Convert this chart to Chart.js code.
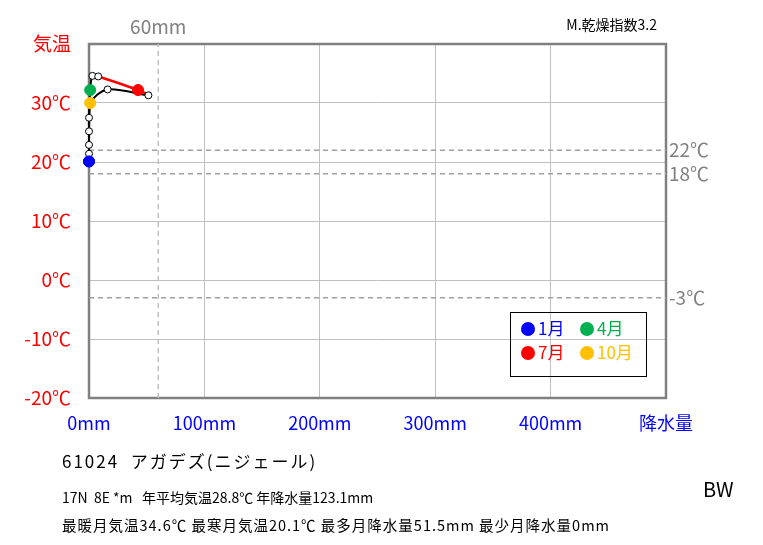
<!DOCTYPE html>
<html lang="ja">
<head>
<meta charset="UTF-8">
<title>雨温図 アガデズ</title>
<script src="https://cdn.jsdelivr.net/npm/chart.js"></script>
<style>
  body { margin: 0; background: #fff; }
  #wrap { width: 763px; height: 545px; }
</style>
</head>
<body>
<div id="wrap"><canvas id="graph" width="763" height="545"></canvas></div>
<script>
// monthly values, Jan..Dec
const months = ['1月','2月','3月','4月','5月','6月','7月','8月','9月','10月','11月','12月'];
const temps = [20.1, 22.9, 27.5, 32.2, 34.6, 34.5, 32.2, 31.3, 32.3, 30.0, 25.2, 21.4];
const precip = [0, 0, 0, 1, 3, 8, 42.5, 51.5, 16.1, 1, 0, 0];
const tempLines = [22, 18, -3];
const precipLine = 60;
const yTicks = [-20, -10, 0, 10, 20, 30, 40];
const xTicks = [0, 100, 200, 300, 400, 500];

const FONT = '"Noto Sans CJK JP", "Noto Sans", sans-serif';
const markColors = { 0: '#0000ff', 3: '#00b050', 6: '#ff0000', 9: '#ffc000' };

// points in month order, closing back on January
const pts = temps.map((t, i) => ({ x: precip[i], y: t }));
pts.push({ x: precip[0], y: temps[0] });
const fillCol = pts.map((p, i) => markColors[i % 12] || '#ffffff');
const edgeCol = pts.map((p, i) => markColors[i % 12] || '#000000');
const radius = pts.map((p, i) => markColors[i % 12] ? 5.5 : 3.5);

const dashed = tempLines.map(v => ({
  type: 'line', data: [{ x: 0, y: v }, { x: 500, y: v }],
  borderColor: '#a0a0a0', borderWidth: 1.5, borderDash: [5, 4],
  pointRadius: 0, order: 2
}));
dashed.push({
  type: 'line', data: [{ x: precipLine, y: -20 }, { x: precipLine, y: 40 }],
  borderColor: '#c0c0c0', borderWidth: 1.5, borderDash: [5, 4],
  pointRadius: 0, order: 2
});

const extras = {
  id: 'extras',
  beforeDatasetsDraw(chart) {
    const { ctx, chartArea: a } = chart;
    ctx.save();
    ctx.strokeStyle = '#808080';
    ctx.lineWidth = 2.5;
    ctx.strokeRect(a.left, a.top, a.right - a.left, a.bottom - a.top);
    ctx.restore();
  },
  afterDraw(chart) {
    const { ctx, scales: { x, y } } = chart;
    ctx.save();
    ctx.textBaseline = 'middle';
    // right side labels for dashed temperature lines
    ctx.fillStyle = '#808080';
    ctx.font = '19px ' + FONT;
    ctx.textAlign = 'left';
    tempLines.forEach(v => ctx.fillText(v + '℃', 669, y.getPixelForValue(v)));
    ctx.textAlign = 'center';
    ctx.fillText(precipLine + 'mm', x.getPixelForValue(precipLine), 27);

    ctx.fillStyle = '#000';
    ctx.font = '14px ' + FONT;
    ctx.textAlign = 'right';
    ctx.fillText('M.乾燥指数3.2', 657, 25);

    // legend
    ctx.lineWidth = 1;
    ctx.strokeStyle = '#000';
    ctx.strokeRect(510.5, 312.5, 136, 64);
    const leg = [[0, 528, 329], [3, 587, 329], [6, 528, 353], [9, 587, 353]];
    ctx.font = '17px ' + FONT;
    ctx.textAlign = 'left';
    leg.forEach(([i, lx, ly]) => {
      ctx.fillStyle = markColors[i];
      ctx.beginPath();
      ctx.arc(lx, ly, 7, 0, Math.PI * 2);
      ctx.fill();
      ctx.fillText(months[i], lx + 10, ly);
    });

    // station info
    ctx.fillStyle = '#000';
    ctx.font = '17px ' + FONT;
    ctx.letterSpacing = '2px';
    ctx.fillText('61024  アガデズ(ニジェール)', 62, 462);
    ctx.font = '14px ' + FONT;
    ctx.letterSpacing = '0px';
    ctx.fillText('17N  8E *m   年平均気温28.8℃ 年降水量123.1mm', 62, 498);
    ctx.font = '14.5px ' + FONT;
    ctx.letterSpacing = '1px';
    ctx.fillText('最暖月気温34.6℃ 最寒月気温20.1℃ 最多月降水量51.5mm 最少月降水量0mm', 62, 525);
    ctx.letterSpacing = '0px';
    ctx.font = '20px ' + FONT;
    ctx.fillText('BW', 703, 489);
    ctx.restore();
  }
};

new Chart(document.getElementById('graph'), {
  type: 'scatter',
  data: {
    datasets: [{
      data: pts,
      showLine: true,
      clip: false,
      tension: 0.3,
      borderWidth: 2,
      borderColor: '#000',
      segment: {
        borderColor: c => (c.p0DataIndex === 5 || c.p0DataIndex === 6) ? '#ff0000' : '#000',
        borderWidth: c => (c.p0DataIndex === 5 || c.p0DataIndex === 6) ? 2.5 : 2
      },
      pointBackgroundColor: fillCol,
      pointBorderColor: edgeCol,
      pointBorderWidth: 1,
      pointRadius: radius,
      pointHoverRadius: radius,
      order: 0
    }, ...dashed]
  },
  options: {
    responsive: false,
    animation: false,
    devicePixelRatio: 1,
    layout: { padding: { top: 44, right: 97, left: 0, bottom: 0 } },
    plugins: { legend: { display: false }, tooltip: { enabled: false } },
    scales: {
      x: {
        type: 'linear', min: 0, max: 500,
        afterFit: s => { s.height = 147; },
        afterBuildTicks: s => { s.ticks = xTicks.map(v => ({ value: v })); },
        grid: { color: '#c0c0c0', drawTicks: false },
        border: { display: false },
        ticks: {
          padding: 14, color: '#0000ff', maxRotation: 0,
          font: { family: FONT, size: 18 },
          callback: v => v === 500 ? '降水量' : v + 'mm'
        }
      },
      y: {
        min: -20, max: 40,
        afterFit: s => { s.width = 89; },
        afterBuildTicks: s => { s.ticks = yTicks.map(v => ({ value: v })); },
        grid: { color: '#c0c0c0', drawTicks: false },
        border: { display: false },
        ticks: {
          padding: 18, color: '#ff0000',
          font: { family: FONT, size: 19 },
          callback: v => v === 40 ? '気温' : v + '℃'
        }
      }
    }
  },
  plugins: [extras]
});
</script>
</body>
</html>
